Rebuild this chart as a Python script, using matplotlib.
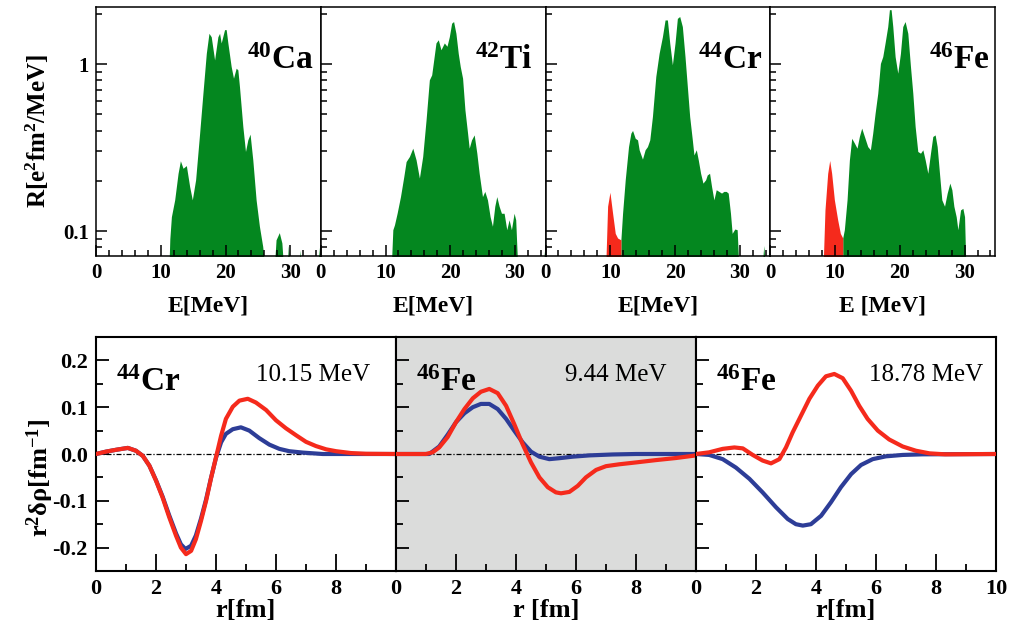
import matplotlib
matplotlib.use("Agg")
import matplotlib.pyplot as plt
from matplotlib.ticker import MultipleLocator, FixedLocator, NullFormatter

plt.rcParams["font.family"] = ["Liberation Serif", "DejaVu Serif"]
plt.rcParams["font.weight"] = "bold"
plt.rcParams["mathtext.fontset"] = "custom"
plt.rcParams["mathtext.rm"] = "Liberation Serif"
plt.rcParams["mathtext.bf"] = "Liberation Serif:bold"
plt.rcParams["mathtext.it"] = "Liberation Serif:italic"
plt.rcParams["axes.unicode_minus"] = False

GREEN = "#04871f"
RED = "#f52a1c"
BLUE = "#2d3d97"

# ---- strength functions R(E) ----
E_ca = [11.2, 11.4, 11.64, 12.15, 12.67, 13.03, 13.44, 13.95, 14.46, 14.87, 15.38, 16.0, 16.51,
        17.03, 17.44, 17.79, 18.31, 18.82, 19.08, 19.33, 19.85, 20.1, 20.36, 20.87, 21.23, 21.64,
        21.9, 22.15, 22.67, 23.08, 23.44, 23.79, 24.21, 24.72, 25.23, 25.74, 26.3,
        27.4, 27.8, 28.3, 28.7, 29.1, 29.4, 29.7, 30.1, 31.2, 31.5, 31.8, 34.0, 34.5]
R_ca = [0.05, 0.09, 0.122, 0.154, 0.222, 0.264, 0.238, 0.247, 0.185, 0.154, 0.203, 0.386, 0.670,
        1.16, 1.53, 1.46, 1.06, 1.46, 1.53, 1.34, 1.61, 1.61, 1.34, 0.968, 0.824, 0.946,
        0.925, 0.735, 0.424, 0.300, 0.352, 0.381, 0.267, 0.154, 0.107, 0.081, 0.05,
        0.05, 0.0887, 0.098, 0.085, 0.05, 0.05, 0.082, 0.05, 0.05, 0.077, 0.05, 0.05, 0.08]

E_ti = [10.8, 11.13, 11.38, 11.79, 12.31, 12.82, 13.18, 13.69, 14.21, 14.72, 15.23, 15.74, 16.26,
        16.77, 17.13, 17.44, 17.79, 18.15, 18.56, 19.08, 19.49, 19.85, 20.21, 20.51, 20.87, 21.23,
        21.54, 21.9, 22.26, 22.67, 22.92, 23.28, 23.69, 24.1, 24.46, 24.97, 25.33, 25.74, 26.15,
        26.51, 26.87, 27.18, 27.54, 27.9, 28.31, 28.72, 29.08, 29.44, 29.85, 30.1, 30.5,
        34.1, 34.6]
R_ti = [0.05, 0.102, 0.109, 0.128, 0.161, 0.212, 0.261, 0.280, 0.314, 0.267, 0.208, 0.280, 0.464,
        0.806, 0.863, 1.06, 1.34, 1.40, 1.22, 1.34, 1.28, 1.46, 1.76, 1.80, 1.53, 1.16,
        0.968, 0.824, 0.533, 0.386, 0.314, 0.352, 0.377, 0.293, 0.222, 0.161, 0.173, 0.154, 0.122,
        0.107, 0.141, 0.161, 0.141, 0.128, 0.128, 0.102, 0.117, 0.102, 0.128, 0.117, 0.05,
        0.05, 0.08]

E_cr = [11.64, 11.9, 12.31, 12.82, 13.18, 13.44, 13.85, 14.21, 14.46, 14.97, 15.38, 15.74, 16.1,
        16.51, 17.03, 17.54, 18.05, 18.46, 18.82, 19.18, 19.59, 20.0, 20.36, 20.72, 21.13, 21.54,
        21.9, 22.26, 22.67, 22.92, 23.28, 23.59, 23.95, 24.31, 24.72, 24.97, 25.33, 25.64, 26.0,
        26.36, 26.77, 27.18, 27.54, 27.9, 28.21, 28.56, 28.82, 29.23, 29.59, 29.95,
        33.3, 33.7, 34.1, 34.4, 34.8]
R_cr = [0.0887, 0.128, 0.203, 0.321, 0.386, 0.401, 0.360, 0.352, 0.307, 0.270, 0.307, 0.321, 0.352,
        0.486, 0.844, 1.16, 1.46, 1.84, 1.84, 1.34, 0.991, 1.34, 1.88, 1.93, 1.68, 1.11,
        0.735, 0.486, 0.352, 0.286, 0.307, 0.267, 0.222, 0.194, 0.203, 0.217, 0.222, 0.185, 0.154,
        0.177, 0.173, 0.169, 0.173, 0.173, 0.169, 0.128, 0.097, 0.103, 0.102, 0.05,
        0.05, 0.082, 0.05, 0.05, 0.078]
E_cr_low = [9.23, 9.59, 9.95, 10.36, 10.77, 11.13, 11.64]
R_cr_low = [0.05, 0.141, 0.171, 0.128, 0.097, 0.091, 0.0887]

E_fe = [11.19, 11.44, 11.86, 12.22, 12.58, 12.99, 13.4, 13.76, 14.12, 14.54, 15.05, 15.46, 15.82,
        16.19, 16.6, 17.01, 17.37, 17.73, 18.14, 18.4, 18.66, 18.92, 19.28, 19.69, 20.1, 20.46,
        20.82, 21.24, 21.65, 22.01, 22.37, 22.78, 23.2, 23.56, 23.92, 24.33, 24.74, 25.1, 25.46,
        25.77, 26.13, 26.49, 26.91, 27.32, 27.73, 28.04, 28.35, 28.71, 28.97, 29.38, 29.74, 30.0,
        30.26]
R_fe = [0.091, 0.102, 0.154, 0.267, 0.360, 0.337, 0.314, 0.369, 0.414, 0.369, 0.321, 0.307, 0.386,
        0.509, 0.670, 1.01, 1.11, 1.34, 1.68, 2.12, 2.12, 1.68, 1.11, 0.883, 1.16, 1.68,
        1.80, 1.53, 0.968, 0.670, 0.424, 0.300, 0.293, 0.307, 0.267, 0.222, 0.293, 0.369, 0.377,
        0.321, 0.222, 0.154, 0.141, 0.169, 0.194, 0.177, 0.141, 0.122, 0.102, 0.134, 0.137, 0.122,
        0.05]
E_fe_low = [8.09, 8.45, 8.87, 9.18, 9.48, 9.9, 10.41, 10.82, 11.19]
R_fe_low = [0.05, 0.134, 0.222, 0.265, 0.222, 0.154, 0.117, 0.097, 0.091]

# ---- transition densities r^2 drho(r): p = red, n = blue ----
r_cr_p = [0, 0.33, 0.67, 1.06, 1.33, 1.56, 1.78, 2.0, 2.22, 2.44, 2.67, 2.83, 3.0, 3.17, 3.33,
          3.5, 3.67, 3.83, 4.0, 4.17, 4.33, 4.56, 4.78, 5.06, 5.33, 5.67, 6.0, 6.33, 6.67, 7.0,
          7.33, 7.67, 8.0, 8.5, 9.0, 10]
d_cr_p = [0, 0.005, 0.009, 0.013, 0.007, -0.004, -0.025, -0.057, -0.093, -0.135, -0.175, -0.200,
          -0.214, -0.207, -0.182, -0.143, -0.100, -0.053, -0.007, 0.039, 0.075, 0.101, 0.114,
          0.118, 0.110, 0.094, 0.072, 0.055, 0.040, 0.026, 0.017, 0.010, 0.006, 0.002, 0.0005, 0]
r_cr_n = [0, 0.33, 0.67, 1.06, 1.33, 1.56, 1.78, 2.0, 2.22, 2.44, 2.67, 2.83, 2.98, 3.17, 3.33,
          3.5, 3.67, 3.83, 4.0, 4.17, 4.33, 4.56, 4.83, 5.11, 5.44, 5.78, 6.11, 6.44, 6.89, 7.56, 10]
d_cr_n = [0, 0.005, 0.009, 0.013, 0.007, -0.004, -0.025, -0.056, -0.091, -0.131, -0.170, -0.193,
          -0.203, -0.196, -0.174, -0.138, -0.097, -0.052, -0.008, 0.025, 0.043, 0.053, 0.057,
          0.050, 0.034, 0.020, 0.011, 0.006, 0.003, 0, 0]

r_fe1_p = [0, 1.0, 1.22, 1.44, 1.72, 2.0, 2.28, 2.56, 2.83, 3.11, 3.39, 3.67, 3.94, 4.22, 4.5,
           4.78, 5.06, 5.33, 5.5, 5.78, 6.06, 6.33, 6.67, 7.0, 7.44, 8.0, 8.67, 9.33, 10]
d_fe1_p = [0, 0, 0.0036, 0.014, 0.036, 0.068, 0.096, 0.119, 0.133, 0.139, 0.130, 0.103, 0.064,
           0.021, -0.018, -0.050, -0.071, -0.082, -0.084, -0.081, -0.068, -0.050, -0.034, -0.026,
           -0.022, -0.018, -0.013, -0.0086, -0.003]
r_fe1_n = [0, 1.11, 1.44, 1.72, 2.0, 2.28, 2.56, 2.83, 3.11, 3.39, 3.67, 3.94, 4.22, 4.5, 4.78,
           5.11, 5.44, 5.89, 6.44, 7.22, 8.0, 10]
d_fe1_n = [0, 0, 0.016, 0.041, 0.068, 0.087, 0.100, 0.107, 0.107, 0.096, 0.075, 0.050, 0.025,
           0.005, -0.0057, -0.011, -0.009, -0.0057, -0.003, -0.001, 0, 0]

r_fe2_p = [0, 0.44, 0.89, 1.28, 1.56, 1.89, 2.22, 2.5, 2.78, 3.0, 3.22, 3.5, 3.78, 4.06, 4.33,
           4.61, 4.89, 5.17, 5.44, 5.72, 6.06, 6.44, 6.89, 7.33, 7.78, 8.3, 10]
d_fe2_p = [0, 0.0036, 0.011, 0.014, 0.012, -0.002, -0.014, -0.020, -0.011, 0.014, 0.046, 0.082,
           0.118, 0.146, 0.166, 0.171, 0.162, 0.135, 0.103, 0.075, 0.050, 0.031, 0.016, 0.007,
           0.0014, -0.0007, 0]
r_fe2_n = [0, 0.44, 0.89, 1.33, 1.78, 2.22, 2.67, 3.06, 3.33, 3.56, 3.83, 4.17, 4.5, 4.83, 5.17,
           5.5, 5.89, 6.33, 6.89, 7.56, 10]
d_fe2_n = [0, -0.002, -0.011, -0.029, -0.053, -0.082, -0.114, -0.139, -0.150, -0.153, -0.150,
           -0.132, -0.103, -0.071, -0.043, -0.0235, -0.011, -0.005, -0.002, -0.0007, 0]

fig = plt.figure(figsize=(10.1, 6.29), dpi=100)

# top row: strength functions
spectra = [
    (E_ca, R_ca, None, None, "40", "Ca", 0.97, "E[MeV]"),
    (E_ti, R_ti, None, None, "42", "Ti", 0.94, "E[MeV]"),
    (E_cr, R_cr, E_cr_low, R_cr_low, "44", "Cr", 0.965, "E[MeV]"),
    (E_fe, R_fe, E_fe_low, R_fe_low, "46", "Fe", 0.975, "E [MeV]"),
]
top_w = 224.75 / 1010
for i, (E, R, El, Rl, A, sym, xt, xl) in enumerate(spectra):
    ax = fig.add_axes([(96 + i * 224.75) / 1010, 373 / 629, top_w, 249 / 629])
    ax.set_yscale("log")
    ax.fill_between(E, R, 0.01, color=GREEN, lw=0)
    if El is not None:
        ax.fill_between(El, Rl, 0.01, color=RED, lw=0)
    ax.set_xlim(0, 34.7)
    ax.set_ylim(0.071, 2.2)
    ax.xaxis.set_major_locator(FixedLocator([0, 10, 20, 30]))
    ax.xaxis.set_minor_locator(MultipleLocator(2))
    ax.set_yticks([0.1, 1])
    ax.set_yticklabels(["0.1", "1"] if i == 0 else ["", ""])
    ax.yaxis.set_minor_formatter(NullFormatter())
    ax.tick_params(which="both", direction="in", top=False, right=False, width=1.1,
                   labelsize=15, pad=5)
    ax.tick_params(which="major", length=8)
    ax.tick_params(which="minor", length=4.5)
    for s in ax.spines.values():
        s.set_linewidth(1.1)
    ax.text(xt, 0.75, r"$^{\mathbf{%s}}\mathbf{%s}$" % (A, sym), transform=ax.transAxes,
            ha="right", va="baseline", fontsize=24)
    ax.set_xlabel(xl, fontsize=17, fontweight="bold")
    ax.xaxis.set_label_coords(0.5, -0.2)
    ax.xaxis.label.set_va("center")
    if i == 0:
        ax.set_ylabel(r"$\mathbf{R[e^{2}fm^{2}/MeV]}$", fontsize=18)
        ax.yaxis.set_label_coords(-0.263, 0.5)
        ax.yaxis.label.set_va("center")

# bottom row: transition densities
densities = [
    (r_cr_p, d_cr_p, r_cr_n, d_cr_n, "44", "Cr", "10.15 MeV", 0.913, "r[fm]", "white"),
    (r_fe1_p, d_fe1_p, r_fe1_n, d_fe1_n, "46", "Fe", "9.44 MeV", 0.903, "r [fm]", "#dbdcdb"),
    (r_fe2_p, d_fe2_p, r_fe2_n, d_fe2_n, "46", "Fe", "18.78 MeV", 0.957, "r[fm]", "white"),
]
for i, (rp, dp, rn, dn, A, sym, lab, xe, xl, bg) in enumerate(densities):
    ax = fig.add_axes([(96 + i * 300) / 1010, 58 / 629, 300 / 1010, 234 / 629])
    ax.set_facecolor(bg)
    ax.axhline(0, color="black", lw=0.9, ls=(0, (4, 1.5, 1, 1.5)), zorder=1)
    ax.plot(rn, dn, color=BLUE, lw=3.0, solid_joinstyle="round", solid_capstyle="round", zorder=2)
    ax.plot(rp, dp, color=RED, lw=3.0, solid_joinstyle="round", solid_capstyle="round", zorder=3)
    ax.set_xlim(0, 10)
    ax.set_ylim(-0.25, 0.25)
    ax.set_xticks([0, 2, 4, 6, 8, 10] if i == 2 else [0, 2, 4, 6, 8])
    ax.xaxis.set_minor_locator(MultipleLocator(1))
    ax.set_yticks([-0.2, -0.1, 0.0, 0.1, 0.2])
    ax.yaxis.set_minor_locator(MultipleLocator(0.05))
    if i == 0:
        ax.set_yticklabels(["-0.2", "-0.1", "0.0", "0.1", "0.2"])
    else:
        ax.set_yticklabels([])
    ax.tick_params(which="both", direction="in", top=False, right=False, width=1.3,
                   labelsize=16, pad=6)
    ax.tick_params(axis="x", which="major", length=12)
    ax.tick_params(axis="x", which="minor", length=5)
    ax.tick_params(axis="y", which="major", length=9)
    ax.tick_params(axis="y", which="minor", length=5)
    for s in ax.spines.values():
        s.set_linewidth(1.5)
    ax.text(0.065, 0.77, r"$^{\mathbf{%s}}\mathbf{%s}$" % (A, sym), transform=ax.transAxes,
            ha="left", va="baseline", fontsize=24)
    ax.text(xe, 0.81, lab, transform=ax.transAxes, ha="right", va="baseline",
            fontsize=18, fontweight="normal")
    ax.set_xlabel(xl, fontsize=19, fontweight="bold")
    ax.xaxis.set_label_coords(0.5, -0.167)
    ax.xaxis.label.set_va("center")
    if i == 0:
        ax.set_ylabel(r"$\mathbf{r^{2}}\mathrm{δρ}\mathbf{[fm^{-1}]}$", fontsize=19)
        ax.yaxis.set_label_coords(-0.187, 0.40)
        ax.yaxis.label.set_va("center")

fig.savefig("out.png", dpi=100)
